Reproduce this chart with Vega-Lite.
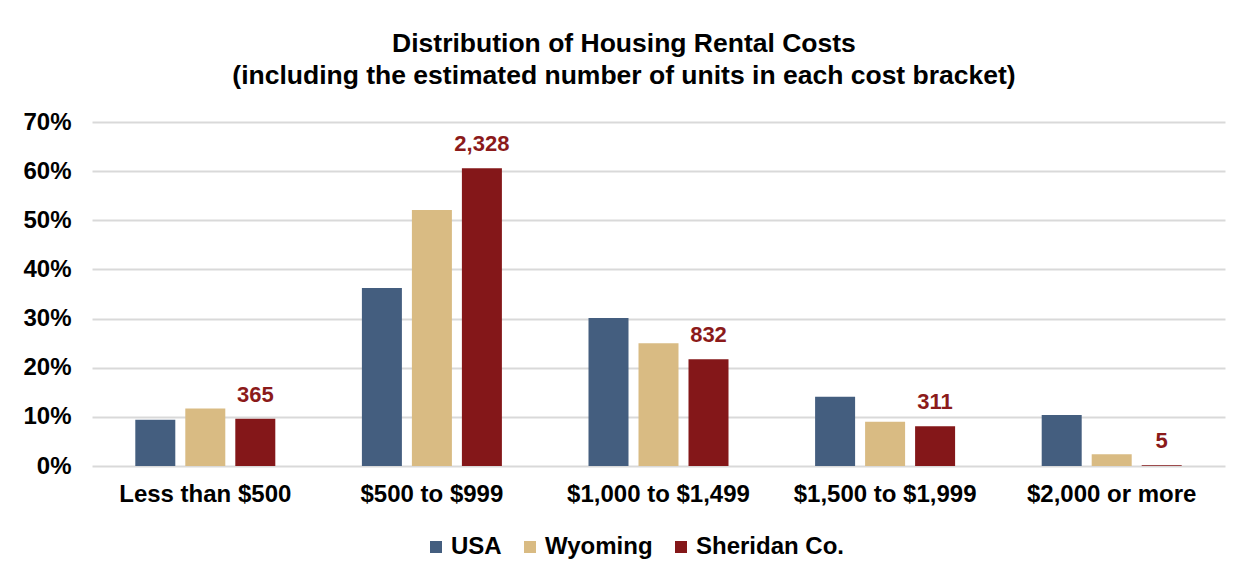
{
  "$schema": "https://vega.github.io/schema/vega-lite/v6.json",
  "width": 1133,
  "height": 344,
  "padding": {"left": 22, "top": 30, "right": 14, "bottom": 10},
  "background": "white",
  "config": {"font": "Liberation Sans", "view": {"stroke": null}},
  "title": {
    "text": ["Distribution of Housing Rental Costs", "(including the estimated number of units in each cost bracket)"],
    "font": "Liberation Sans",
    "fontSize": 26.5,
    "fontWeight": "bold",
    "color": "#000000",
    "anchor": "middle",
    "frame": "bounds",
    "offset": 21,
    "lineHeight": 32
  },
  "data": {
    "values": [
      {"bracket": "Less than $500", "region": "USA", "pct": 0.094},
      {"bracket": "Less than $500", "region": "Wyoming", "pct": 0.117},
      {"bracket": "Less than $500", "region": "Sheridan Co.", "pct": 0.096, "units": 365},
      {"bracket": "$500 to $999", "region": "USA", "pct": 0.362},
      {"bracket": "$500 to $999", "region": "Wyoming", "pct": 0.521},
      {"bracket": "$500 to $999", "region": "Sheridan Co.", "pct": 0.606, "units": 2328},
      {"bracket": "$1,000 to $1,499", "region": "USA", "pct": 0.301},
      {"bracket": "$1,000 to $1,499", "region": "Wyoming", "pct": 0.250},
      {"bracket": "$1,000 to $1,499", "region": "Sheridan Co.", "pct": 0.217, "units": 832},
      {"bracket": "$1,500 to $1,999", "region": "USA", "pct": 0.141},
      {"bracket": "$1,500 to $1,999", "region": "Wyoming", "pct": 0.090},
      {"bracket": "$1,500 to $1,999", "region": "Sheridan Co.", "pct": 0.081, "units": 311},
      {"bracket": "$2,000 or more", "region": "USA", "pct": 0.104},
      {"bracket": "$2,000 or more", "region": "Wyoming", "pct": 0.024},
      {"bracket": "$2,000 or more", "region": "Sheridan Co.", "pct": 0.0013, "units": 5}
    ]
  },
  "encoding": {
    "x": {
      "field": "bracket",
      "type": "nominal",
      "sort": ["Less than $500", "$500 to $999", "$1,000 to $1,499", "$1,500 to $1,999", "$2,000 or more"],
      "scale": {"paddingInner": 0, "paddingOuter": 0},
      "axis": {
        "title": null,
        "labelAngle": 0,
        "labelFontSize": 24,
        "labelFontWeight": "bold",
        "labelColor": "#000000",
        "labelPadding": 16,
        "labelLimit": 0,
        "ticks": false,
        "domain": false
      }
    },
    "xOffset": {
      "field": "region",
      "type": "nominal",
      "sort": ["USA", "Wyoming", "Sheridan Co."],
      "scale": {"paddingInner": 0.2, "paddingOuter": 0.866}
    },
    "y": {
      "field": "pct",
      "type": "quantitative",
      "scale": {"domain": [0, 0.7]},
      "axis": {
        "title": null,
        "format": ".0%",
        "values": [0, 0.1, 0.2, 0.3, 0.4, 0.5, 0.6, 0.7],
        "labelFontSize": 24,
        "labelFontWeight": "bold",
        "labelColor": "#000000",
        "labelPadding": 21,
        "ticks": false,
        "domain": false,
        "gridColor": "#D9D9D9",
        "gridWidth": 2
      }
    }
  },
  "layer": [
    {
      "mark": {"type": "bar"},
      "encoding": {
        "color": {
          "field": "region",
          "type": "nominal",
          "sort": ["USA", "Wyoming", "Sheridan Co."],
          "scale": {"domain": ["USA", "Wyoming", "Sheridan Co."], "range": ["#445E7F", "#D9BB83", "#841719"]},
          "legend": {
            "title": null,
            "orient": "none",
            "legendX": 332,
            "legendY": 413,
            "direction": "horizontal",
            "symbolType": "square",
            "symbolSize": 144,
            "symbolStrokeWidth": 0,
            "labelFontSize": 24,
            "labelFontWeight": "bold",
            "labelColor": "#000000",
            "columnPadding": 16,
            "labelOffset": 3
          }
        }
      }
    },
    {
      "transform": [{"filter": "isValid(datum.units)"}],
      "mark": {"type": "text", "dy": -24, "fontSize": 22, "fontWeight": "bold", "color": "#8B1A1A"},
      "encoding": {
        "text": {"field": "units", "type": "quantitative", "format": ","}
      }
    }
  ]
}
